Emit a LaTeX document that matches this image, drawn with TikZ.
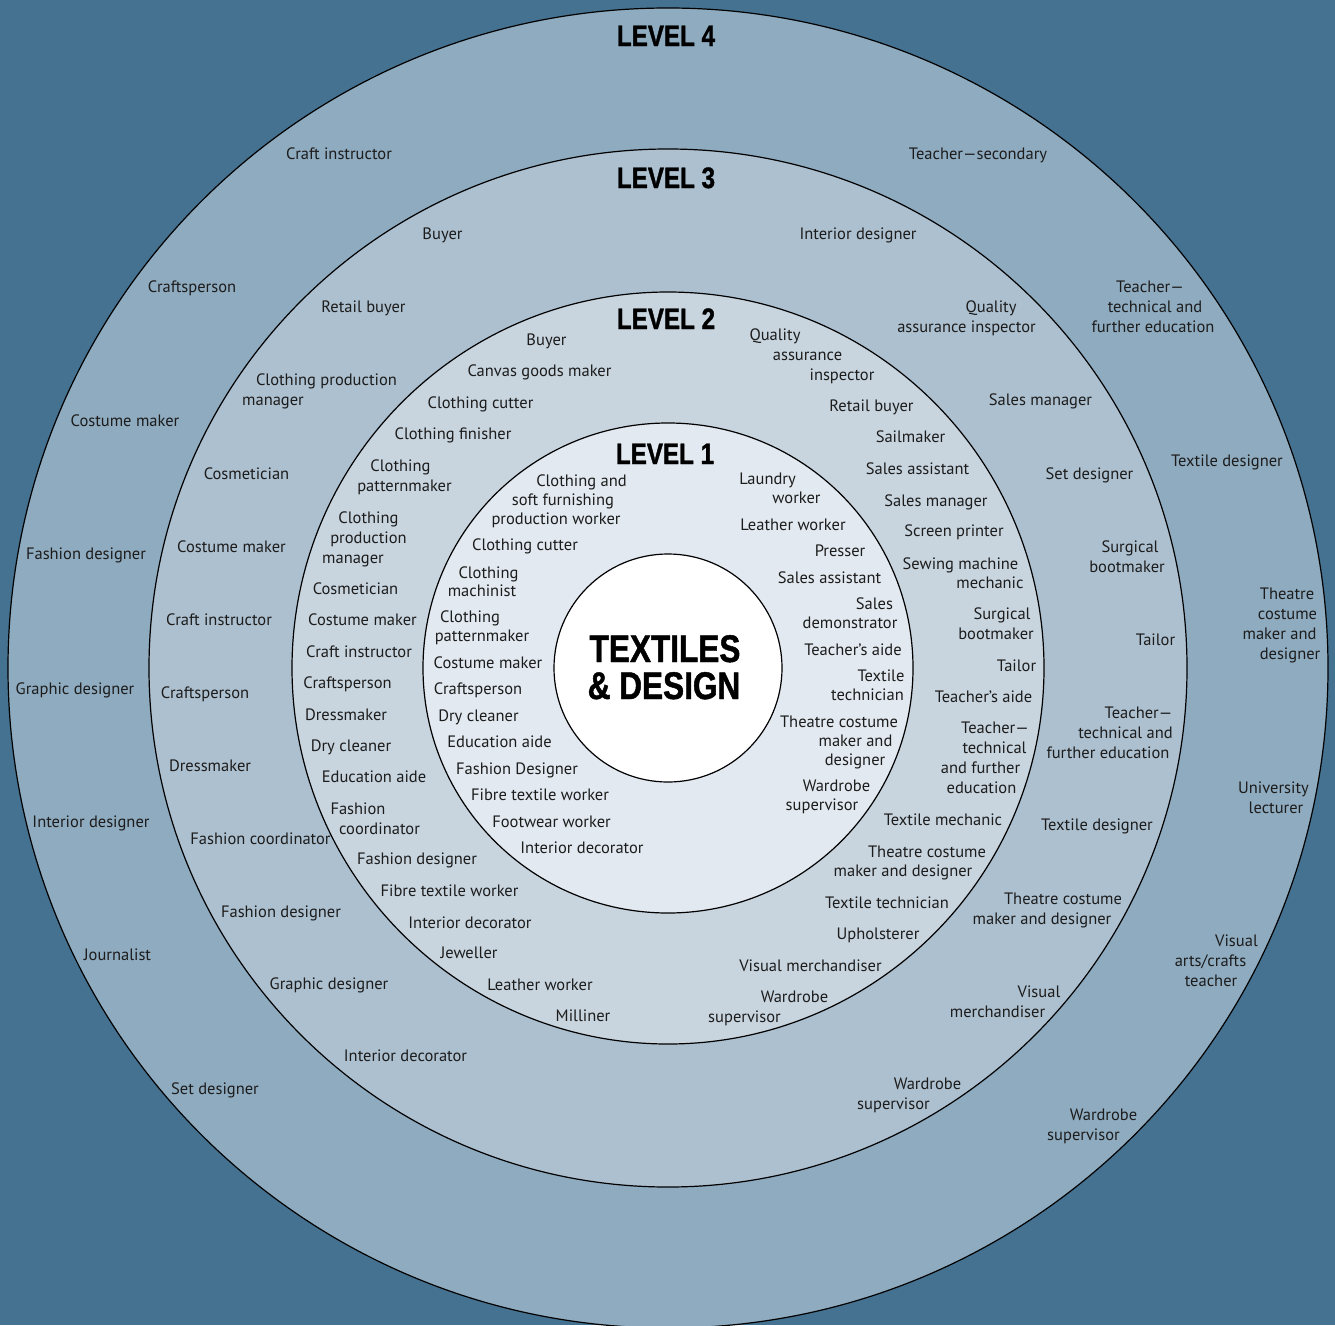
\documentclass[tikz,border=0pt]{standalone}
\usepackage{fontspec}
\setmainfont{PT Sans}
\newfontfamily\headfont{Liberation Sans}[FakeStretch=0.82,FakeBold=1.2]
\definecolor{bgc}{RGB}{69,114,145}
\definecolor{ringfour}{RGB}{143,171,191}
\definecolor{ringthree}{RGB}{173,192,207}
\definecolor{ringtwo}{RGB}{200,213,223}
\definecolor{ringone}{RGB}{226,233,240}
\definecolor{txtc}{RGB}{28,28,28}
\newcounter{lbl}
\newcommand\tx[3]{\stepcounter{lbl}\node[lab] (t\arabic{lbl}) at (#1,#2+6) {#3};}
\begin{document}
\begin{tikzpicture}[x=1pt,y=-1pt,
  lab/.style={anchor=base,inner sep=0pt,text=txtc,font=\fontsize{16.5}{20}\selectfont},
  head/.style={anchor=base,inner sep=0pt,text=black,font=\headfont\bfseries\fontsize{29.5}{30}\selectfont},
  titletext/.style={anchor=base,inner sep=0pt,text=black,font=\headfont\bfseries\fontsize{38.5}{40}\selectfont},
  ring/.style={draw=black,line width=1.2pt}]
\useasboundingbox (0,0) rectangle (1335,1325);
\fill[bgc] (0,0) rectangle (1335,1325);
\coordinate (c) at (668,668);
\filldraw[ring,fill=ringfour] (c) circle[radius=660pt];
\filldraw[ring,fill=ringthree] (c) circle[radius=519pt];
\filldraw[ring,fill=ringtwo] (c) circle[radius=376pt];
\filldraw[ring,fill=ringone] (c) circle[radius=245pt];
\filldraw[ring,fill=white] (c) circle[radius=114pt];
% headings
\node[head] (lv4) at (666,46) {LEVEL 4};
\node[head] (lv3) at (666,188) {LEVEL 3};
\node[head] (lv2) at (666,329) {LEVEL 2};
\node[head] (lv1) at (665,464) {LEVEL 1};
\node[titletext] (tt1) at (665,662) {TEXTILES};
\node[titletext] (tt2) at (664,699) {\& DESIGN};
% level 4
\tx{339}{153}{Craft instructor}
\tx{978}{153}{Teacher—secondary}
\tx{192}{286}{Craftsperson}
\tx{1150}{286}{Teacher—}
\tx{1155}{306}{technical and}
\tx{1153}{326}{further education}
\tx{125}{420}{Costume maker}
\tx{1227}{460}{Textile designer}
\tx{86}{553}{Fashion designer}
\tx{1287}{593}{Theatre}
\tx{1287.5}{613}{costume}
\tx{1279.5}{633}{maker and}
\tx{1290}{653}{designer}
\tx{75}{688}{Graphic designer}
\tx{1273.5}{787}{University}
\tx{1276}{807}{lecturer}
\tx{91}{821}{Interior designer}
\tx{117.5}{954}{Journalist}
\tx{1236.5}{940}{Visual}
\tx{1210.5}{960}{arts/crafts}
\tx{1211}{980}{teacher}
\tx{215}{1088}{Set designer}
\tx{1103.5}{1114}{Wardrobe}
\tx{1083.5}{1134}{supervisor}
% level 3
\tx{442.5}{233}{Buyer}
\tx{858}{233}{Interior designer}
\tx{363.5}{306}{Retail buyer}
\tx{991}{306}{Quality}
\tx{966.5}{326}{assurance inspector}
\tx{326.5}{379}{Clothing production}
\tx{273}{399}{manager}
\tx{1040.5}{399}{Sales manager}
\tx{246.5}{473}{Cosmetician}
\tx{1089.5}{473}{Set designer}
\tx{231.5}{546}{Costume maker}
\tx{1130}{546}{Surgical}
\tx{1127}{566}{bootmaker}
\tx{219}{619}{Craft instructor}
\tx{1155.5}{639}{Tailor}
\tx{205}{692}{Craftsperson}
\tx{1138.5}{712}{Teacher—}
\tx{1125.5}{732}{technical and}
\tx{1108}{752}{further education}
\tx{210}{765}{Dressmaker}
\tx{1097}{824}{Textile designer}
\tx{260.5}{838}{Fashion coordinator}
\tx{1063}{898}{Theatre costume}
\tx{1042}{918}{maker and designer}
\tx{281}{911}{Fashion designer}
\tx{329}{983}{Graphic designer}
\tx{1039}{991}{Visual}
\tx{997.5}{1011}{merchandiser}
\tx{405.5}{1055}{Interior decorator}
\tx{927.5}{1083}{Wardrobe}
\tx{893.5}{1103}{supervisor}
% level 2
\tx{546.5}{339}{Buyer}
\tx{775}{334}{Quality}
\tx{807.5}{354}{assurance}
\tx{842}{374}{inspector}
\tx{539.5}{370}{Canvas goods maker}
\tx{871.5}{405}{Retail buyer}
\tx{480.5}{402}{Clothing cutter}
\tx{453}{433}{Clothing finisher}
\tx{910.5}{436}{Sailmaker}
\tx{400.5}{465}{Clothing}
\tx{404.5}{485}{patternmaker}
\tx{917.5}{468}{Sales assistant}
\tx{936}{500}{Sales manager}
\tx{368.5}{517}{Clothing}
\tx{368.5}{537}{production}
\tx{353}{557}{manager}
\tx{954}{530}{Screen printer}
\tx{960.5}{563}{Sewing machine}
\tx{990}{582}{mechanic}
\tx{355.5}{588}{Cosmetician}
\tx{1002}{613}{Surgical}
\tx{996}{633}{bootmaker}
\tx{362.5}{619}{Costume maker}
\tx{359}{651}{Craft instructor}
\tx{1016.5}{665}{Tailor}
\tx{347.5}{682}{Craftsperson}
\tx{983.5}{696}{Teacher’s aide}
\tx{346}{714}{Dressmaker}
\tx{995}{727}{Teacher—}
\tx{994.5}{747}{technical}
\tx{980.5}{767}{and further}
\tx{981.5}{787}{education}
\tx{351}{745}{Dry cleaner}
\tx{374}{776}{Education aide}
\tx{358}{808}{Fashion}
\tx{379.5}{828}{coordinator}
\tx{943}{819}{Textile mechanic}
\tx{927}{851}{Theatre costume}
\tx{903}{870}{maker and designer}
\tx{417}{858}{Fashion designer}
\tx{449.5}{890}{Fibre textile worker}
\tx{887}{902}{Textile technician}
\tx{470}{922}{Interior decorator}
\tx{878}{933}{Upholsterer}
\tx{469}{952}{Jeweller}
\tx{810.5}{965}{Visual merchandiser}
\tx{540}{984}{Leather worker}
\tx{794.5}{996}{Wardrobe}
\tx{744.5}{1016}{supervisor}
\tx{583}{1015}{Milliner}
% level 1
\tx{581.5}{480}{Clothing and}
\tx{563}{499}{soft furnishing}
\tx{556}{518}{production worker}
\tx{767.5}{478}{Laundry}
\tx{796.5}{497}{worker}
\tx{793}{524}{Leather worker}
\tx{525}{544}{Clothing cutter}
\tx{840}{550}{Presser}
\tx{488.5}{572}{Clothing}
\tx{482}{590}{machinist}
\tx{829.5}{577}{Sales assistant}
\tx{874.5}{603}{Sales}
\tx{850}{622}{demonstrator}
\tx{470}{616}{Clothing}
\tx{482}{635}{patternmaker}
\tx{853}{649}{Teacher’s aide}
\tx{488}{662}{Costume maker}
\tx{881}{675}{Textile}
\tx{867.5}{694}{technician}
\tx{478}{688}{Craftsperson}
\tx{478.5}{715}{Dry cleaner}
\tx{839}{721}{Theatre costume}
\tx{855.5}{740}{maker and}
\tx{855}{759}{designer}
\tx{499.5}{741}{Education aide}
\tx{517}{768}{Fashion Designer}
\tx{836.5}{785}{Wardrobe}
\tx{822}{804}{supervisor}
\tx{540}{794}{Fibre textile worker}
\tx{551.5}{821}{Footwear worker}
\tx{582}{847}{Interior decorator}
\end{tikzpicture}
\end{document}
